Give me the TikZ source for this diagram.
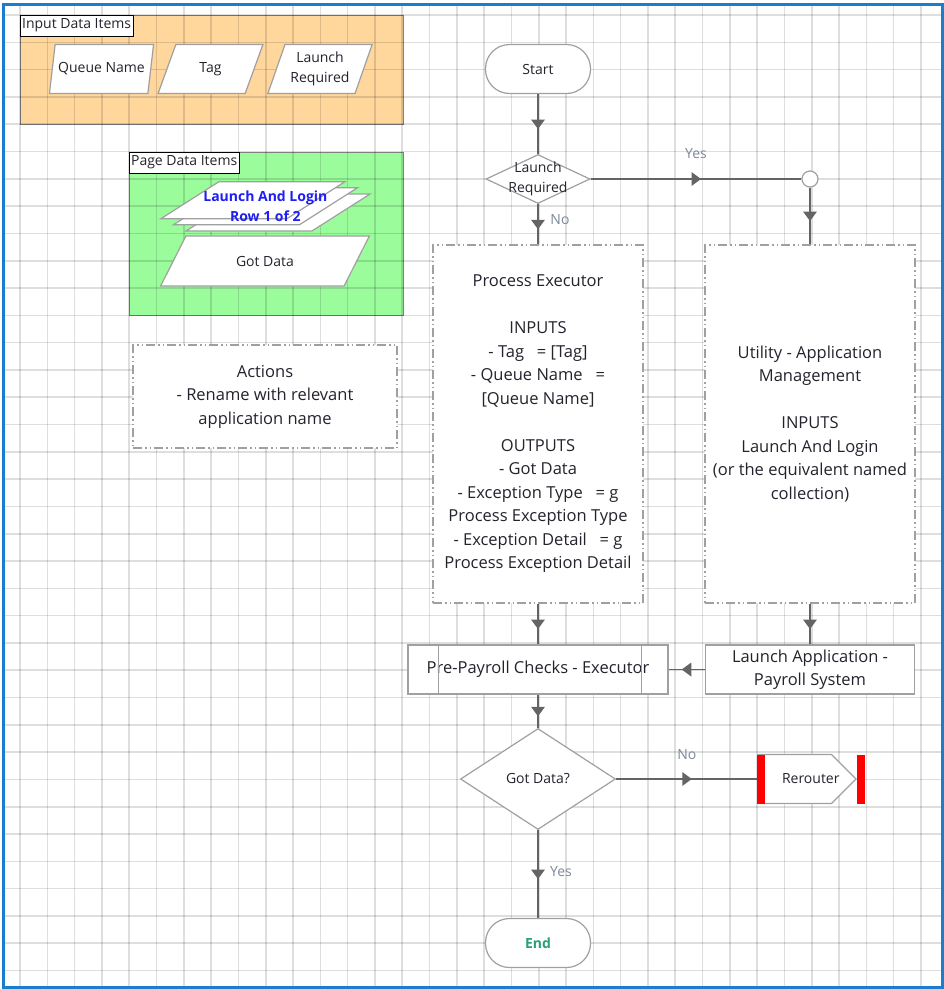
\documentclass[tikz,border=0pt]{standalone}
\usepackage{fontspec}
\setmainfont{Open Sans}
\usetikzlibrary{arrows.meta,positioning,calc,shapes.geometric,shapes.symbols,decorations.markings}

\definecolor{framecol}{RGB}{27,125,205}
\definecolor{edgegray}{RGB}{160,160,160}
\definecolor{linegray}{RGB}{100,100,100}
\definecolor{inputorange}{RGB}{255,214,155}
\definecolor{pagegreen}{RGB}{155,252,155}
\definecolor{lblblue}{RGB}{125,135,155}
\definecolor{collblue}{RGB}{30,30,245}
\definecolor{endgreen}{RGB}{40,160,120}
\definecolor{textdark}{RGB}{35,35,45}

\newcommand{\bigsize}{\fontsize{16.5}{23.5}\selectfont}
\newcommand{\smallsize}{\fontsize{14}{20}\selectfont}

\begin{document}
\begin{tikzpicture}[x=1pt,y=-1pt,
                every node/.style={text=textdark},
                groupbox/.style={draw=gray, line width=1pt, inner sep=0pt},
                titlebox/.style={draw=black, line width=1.2pt, fill=white, inner sep=2pt, minimum height=21pt, font=\smallsize},
                shapebox/.style={draw=edgegray, line width=1.2pt, fill=white, inner sep=0pt},
                inpara/.style={shapebox, trapezium, trapezium left angle=67, trapezium right angle=113, trapezium stretches=true, minimum width=105pt, minimum height=49pt, font=\smallsize, align=center},
                collpara/.style={shapebox, inner sep=2pt, trapezium, trapezium left angle=49.5, trapezium right angle=130.5, trapezium stretches=true, minimum width=184pt, minimum height=37pt},
                terminal/.style={shapebox, rounded corners=24pt, minimum width=105pt, minimum height=49pt, font=\smallsize},
                decision/.style={shapebox, diamond, font=\smallsize, align=center},
                notebox/.style={draw=edgegray, line width=1.2pt, fill=white, dash pattern=on 9pt off 3pt on 1.5pt off 3pt on 1.5pt off 3pt, align=center, font=\bigsize},
                stagebox/.style={shapebox, align=center, font=\bigsize, minimum height=49pt},
                flow/.style={draw=linegray, line width=1.3pt, postaction={decorate},
                    decoration={markings, mark=at position 0.5 with {\fill[linegray] (5pt,0pt) -- (-4.5pt,7pt) -- (-4.5pt,-7pt) -- cycle;}}},
                edgelbl/.style={text=lblblue, font=\smallsize, inner sep=0pt}
            ]
                \useasboundingbox (0,0) rectangle (944,989);

                % Data item groups
                \node[groupbox, fill=inputorange, minimum width=383pt, minimum height=109pt] (inbox) at (211.5,69.5) {};
                \node[groupbox, fill=pagegreen, minimum width=274pt, minimum height=163pt] (pagebox) at (266,233.5) {};

                % Grid
                \foreach \gx in {0,...,33}
                    \draw[black, opacity=0.13, line width=1.6pt] ({20+27.3*\gx},4.5) -- ({20+27.3*\gx},987);
                \foreach \gy in {0,...,35}
                    \draw[black, opacity=0.13, line width=1.6pt] (4.5,{15+27.3*\gy}) -- (942,{15+27.3*\gy});

                % Frame
                \draw[framecol, line width=3pt] (3.5,4.5) rectangle (942.5,987.5);

                % Group titles
                \node[titlebox, anchor=north west] (intitle) at (inbox.north west) {Input Data Items};
                \node[titlebox, anchor=north west] (pagetitle) at (pagebox.north west) {Page Data Items};

                % Input data items
                \node[inpara] (qname) at (101.5,69) {Queue Name};
                \node[inpara] (tag) at (210.5,69) {Tag};
                \node[inpara] (launchreq) at (320,69) {Launch\\Required};

                % Page data items
                \node[collpara] (coll3) at (278,212.5) {};
                \node[collpara] (coll2) at (265.4,206.3) {};
                \node[collpara] (coll1) at (252.9,200.2) {};
                \node[font=\smallsize\bfseries, text=collblue, align=center] (coll) at (coll2) {Launch And Login\\Row 1 of 2};
                \node[shapebox, trapezium, trapezium left angle=48, trapezium right angle=132, trapezium stretches=true, minimum width=210pt, minimum height=50pt, font=\smallsize] (gotdata) at (265,261) {Got Data};

                % Note
                \node[notebox, minimum width=264pt, minimum height=103pt] (actions) at (265,396.5) {Actions\\- Rename with relevant\\application name};

                % Main flow
                \node[terminal] (start) at (538,69) {Start};
                \node[decision, minimum width=104pt, minimum height=49pt,
                      label={[font=\smallsize, align=center, text=textdark]center:Launch\\Required}] (launchq) at (538,179) {};
                \node[shapebox, circle, minimum size=16pt] (junc) at (810,179) {};
                \node[notebox, minimum width=210pt, minimum height=358pt] (procexec) at (538,424) {Process Executor\\[23.5pt]INPUTS\\- Tag \ \ = [Tag]\\- Queue Name \ \ =\\{[Queue Name]}\\[23.5pt]OUTPUTS\\- Got Data\\- Exception Type \ \ = g\\Process Exception Type\\- Exception Detail \ \ = g\\Process Exception Detail};
                \node[notebox, minimum width=210pt, minimum height=358pt] (utility) at (810,424) {Utility - Application\\Management\\[23.5pt]INPUTS\\Launch And Login\\(or the equivalent named\\collection)};
                \node[stagebox, minimum width=260pt] (prepay) at (538,669.5) {Pre-Payroll Checks - Executor};
                \node[stagebox, minimum width=209pt] (launchapp) at (810,669.5) {Launch Application -\\Payroll System};
                \node[decision, minimum width=155pt, minimum height=101pt] (gotdataq) at (538,779) {Got Data?};
                \node[shapebox, signal, signal to=east, signal pointer angle=90, minimum width=98pt, minimum height=49pt,
                      label={[font=\smallsize, text=textdark, xshift=16pt]center:Rerouter}] (rerouter) at (794.8,779) {};
                \node[terminal, font=\smallsize\bfseries, text=endgreen] (endnode) at (538,943) {End};

                % Sub-process bars
                \draw[edgegray, line width=1.2pt] ([xshift=31pt]prepay.north west) -- ([xshift=31pt]prepay.south west);
                \draw[edgegray, line width=1.2pt] ([xshift=-27pt]prepay.north east) -- ([xshift=-27pt]prepay.south east);

                % Rerouter end bars
                \fill[red] ($(rerouter.west)+(0,-24.5)$) rectangle ++(8,49);
                \fill[red] ($(rerouter.east)+(0,-24.5)$) rectangle ++(8,49);

                % Connectors
                \draw[flow] (start) -- (launchq);
                \draw[flow] (launchq) -- node[edgelbl, yshift=25pt] {Yes} (junc);
                \draw[flow] (junc) -- (utility);
                \draw[flow] (launchq) -- node[edgelbl, xshift=22pt, yshift=5pt] {No} (procexec);
                \draw[flow] (procexec) -- (prepay);
                \draw[flow] (utility) -- (launchapp);
                \draw[flow] (launchapp) -- (prepay);
                \draw[flow] (prepay) -- (gotdataq);
                \draw[flow] (gotdataq) -- node[edgelbl, yshift=24pt] {No} (rerouter);
                \draw[flow] (gotdataq) -- node[edgelbl, xshift=23pt, yshift=2pt] {Yes} (endnode);
            \end{tikzpicture}
\end{document}
